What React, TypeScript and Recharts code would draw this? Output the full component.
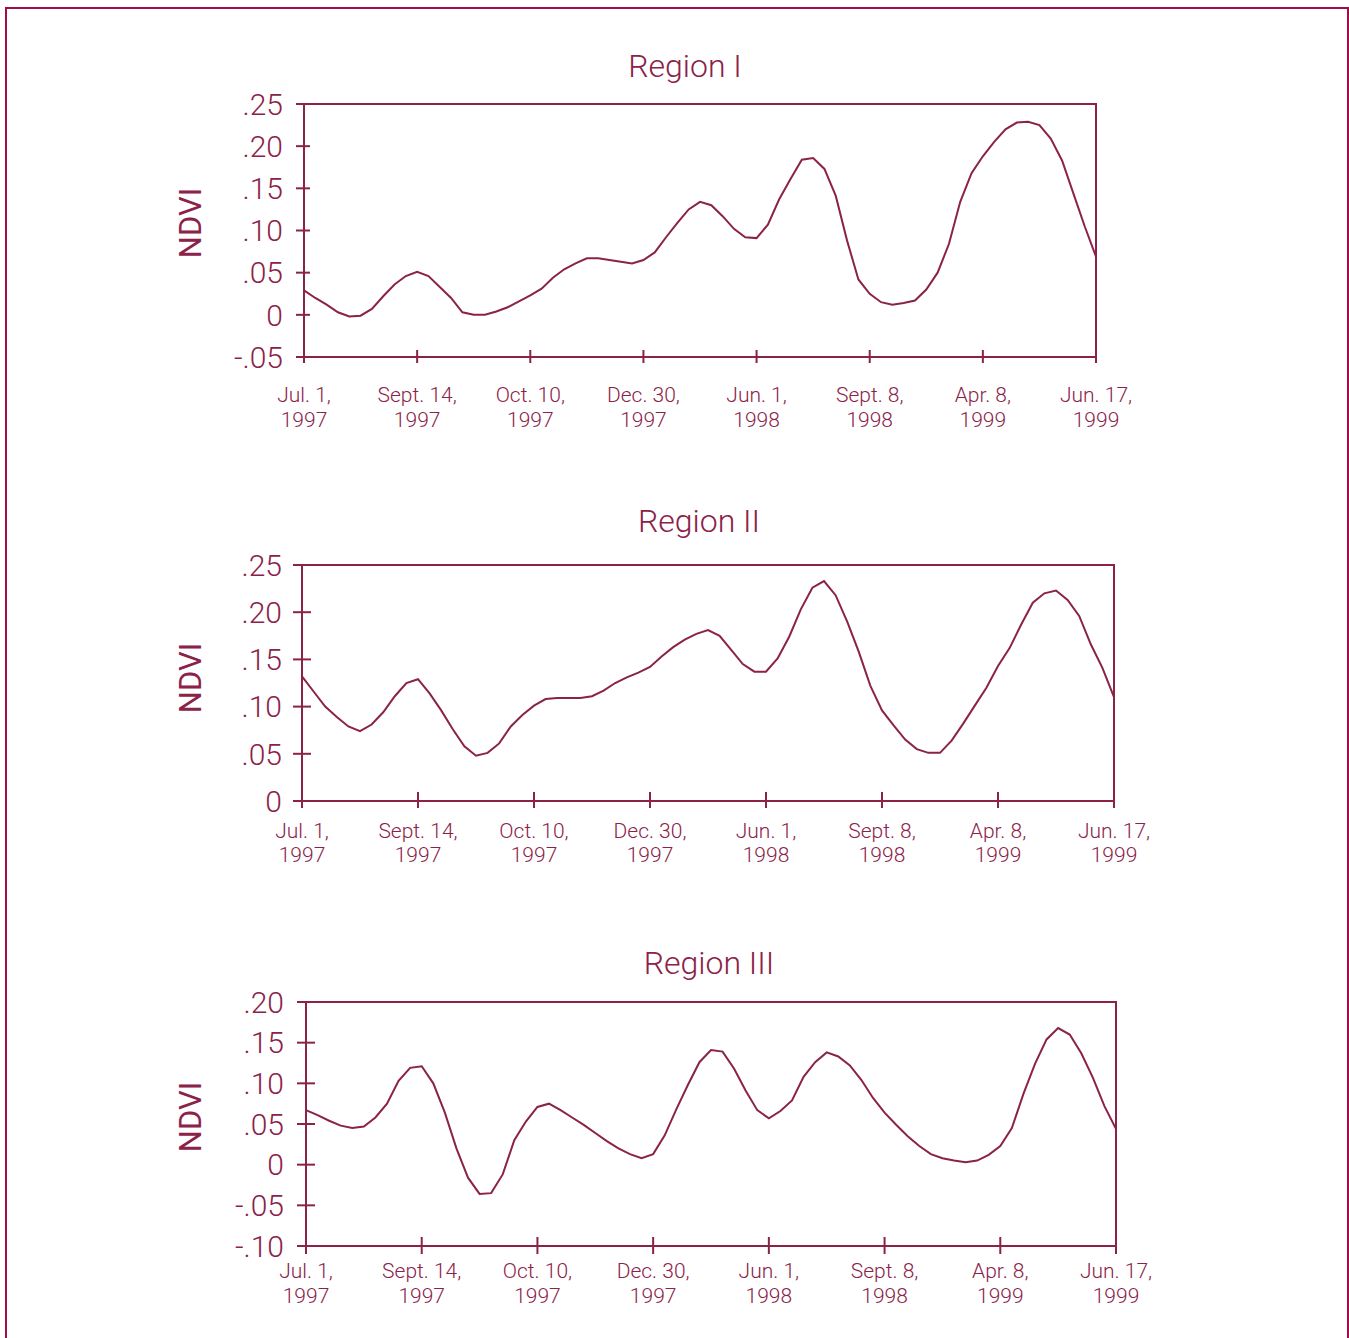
import React from "react";
import { LineChart, Line, XAxis, YAxis, ReferenceLine } from "recharts";

const INK = "#8b2249";
const FRAME = "#a30c4a";

// equally spaced date ticks (index scale, 10 samples between ticks)
const xTicks = [0, 10, 20, 30, 40, 50, 60, 70];
const tickMonths = ["Jul. 1,", "Sept. 14,", "Oct. 10,", "Dec. 30,", "Jun. 1,", "Sept. 8,", "Apr. 8,", "Jun. 17,"];
const tickYears = ["1997", "1997", "1997", "1997", "1998", "1998", "1999", "1999"];

const regionI = [
  0.029, 0.020, 0.012, 0.003, -0.002, -0.001, 0.007, 0.022, 0.036, 0.046,
  0.051, 0.046, 0.033, 0.020, 0.003, 0.000, 0.000, 0.004, 0.009, 0.016,
  0.023, 0.031, 0.044, 0.054, 0.061, 0.067, 0.067, 0.065, 0.063, 0.061,
  0.065, 0.074, 0.092, 0.109, 0.125, 0.134, 0.130, 0.117, 0.102, 0.092,
  0.091, 0.107, 0.137, 0.161, 0.184, 0.186, 0.173, 0.141, 0.088, 0.042,
  0.025, 0.015, 0.012, 0.014, 0.017, 0.030, 0.050, 0.084, 0.134, 0.168,
  0.188, 0.205, 0.220, 0.228, 0.229, 0.225, 0.209, 0.183, 0.144, 0.105,
  0.069,
];

const regionII = [
  0.132, 0.116, 0.100, 0.089, 0.079, 0.074, 0.081, 0.094, 0.111, 0.125,
  0.129, 0.114, 0.096, 0.076, 0.058, 0.048, 0.051, 0.061, 0.079, 0.091,
  0.101, 0.108, 0.109, 0.109, 0.109, 0.111, 0.117, 0.125, 0.131, 0.136,
  0.142, 0.153, 0.163, 0.171, 0.177, 0.181, 0.175, 0.160, 0.145, 0.137,
  0.137, 0.151, 0.174, 0.203, 0.226, 0.233, 0.218, 0.190, 0.158, 0.122,
  0.096, 0.080, 0.065, 0.055, 0.051, 0.051, 0.064, 0.082, 0.101, 0.120,
  0.143, 0.162, 0.187, 0.210, 0.220, 0.223, 0.213, 0.196, 0.166, 0.141,
  0.110,
];

const regionIII = [
  0.067, 0.061, 0.054, 0.048, 0.045, 0.047, 0.058, 0.075, 0.103, 0.119,
  0.121, 0.100, 0.064, 0.020, -0.016, -0.036, -0.035, -0.012, 0.030, 0.053,
  0.071, 0.075, 0.067, 0.058, 0.049, 0.039, 0.029, 0.020, 0.013, 0.008,
  0.013, 0.036, 0.068, 0.098, 0.126, 0.141, 0.139, 0.118, 0.091, 0.067,
  0.057, 0.066, 0.079, 0.108, 0.126, 0.138, 0.133, 0.122, 0.104, 0.082,
  0.064, 0.049, 0.035, 0.023, 0.013, 0.008, 0.005, 0.003, 0.005, 0.012,
  0.023, 0.045, 0.087, 0.124, 0.154, 0.168, 0.160, 0.137, 0.107, 0.072,
  0.044,
];

const yTicksI = [-0.05, 0, 0.05, 0.1, 0.15, 0.2, 0.25];
const yTicksII = [0, 0.05, 0.1, 0.15, 0.2, 0.25];
const yTicksIII = [-0.1, -0.05, 0, 0.05, 0.1, 0.15, 0.2];

const PAGE_W = 1349;
const PAGE_H = 1338;
const YW = 60;
const XH = 80;

const panels = [
  {
    title: "Region I", values: regionI, yTicks: yTicksI, domain: [-0.05, 0.25],
    plot: { l: 304, r: 1096, t: 104, b: 357 },
    yOut: 8, yIn: 6, xUp: 7, xDown: 6, yGap: 21, xBase: [45, 70],
    titleX: 685, titleBase: 77, ndviY: 223,
  },
  {
    title: "Region II", values: regionII, yTicks: yTicksII, domain: [0, 0.25],
    plot: { l: 302, r: 1114, t: 565, b: 801 },
    yOut: 9, yIn: 9, xUp: 9, xDown: 7, yGap: 20, xBase: [37, 61],
    titleX: 699, titleBase: 532, ndviY: 678,
  },
  {
    title: "Region III", values: regionIII, yTicks: yTicksIII, domain: [-0.1, 0.2],
    plot: { l: 306, r: 1116, t: 1002, b: 1246 },
    yOut: 9, yIn: 9, xUp: 9, xDown: 8, yGap: 22, xBase: [32, 57],
    titleX: 709, titleBase: 974, ndviY: 1117,
  },
];

function fmtY(v: number) {
  if (Math.abs(v) < 1e-9) return "0";
  return v.toFixed(2).replace("0.", ".");
}

function Panel({ p }: { p: (typeof panels)[number] }) {
  const H = p.plot.b + 100;
  const data = p.values.map((v, i) => ({ t: i, v }));
  const last = p.values.length - 1;
  const axisLine = { stroke: INK, strokeWidth: 2, strokeLinecap: "square" as const };

  return (
    <div style={{ position: "absolute", left: 0, top: 0 }}>
      <LineChart
        width={PAGE_W}
        height={H}
        data={data}
        margin={{ top: p.plot.t, left: p.plot.l - YW, right: PAGE_W - p.plot.r, bottom: H - p.plot.b - XH }}
      >
        <XAxis
          dataKey="t"
          type="number"
          domain={[0, last]}
          ticks={xTicks}
          interval={0}
          height={XH}
          tickSize={0}
          tickMargin={0}
          tickLine={false}
          axisLine={axisLine}
          tick={(tp: any) => {
            const i = xTicks.indexOf(tp.payload.value);
            return (
              <g>
                <line x1={tp.x} x2={tp.x} y1={tp.y - p.xUp} y2={tp.y + p.xDown} stroke={INK} strokeWidth={2} />
                <text x={tp.x} y={tp.y + p.xBase[0]} textAnchor="middle" fontSize={21} fontWeight={300} fill={INK}>{tickMonths[i]}</text>
                <text x={tp.x} y={tp.y + p.xBase[1]} textAnchor="middle" fontSize={21} fontWeight={300} fill={INK}>{tickYears[i]}</text>
              </g>
            );
          }}
        />
        <YAxis
          type="number"
          domain={p.domain}
          ticks={p.yTicks}
          interval={0}
          width={YW}
          tickSize={0}
          tickMargin={0}
          tickLine={false}
          axisLine={axisLine}
          tick={(tp: any) => (
            <g>
              <line x1={tp.x - p.yOut} x2={tp.x + p.yIn} y1={tp.y} y2={tp.y} stroke={INK} strokeWidth={2} />
              <text x={tp.x - p.yGap} y={tp.y} dy="0.36em" textAnchor="end" fontSize={30} fontWeight={300} fill={INK}>
                {fmtY(tp.payload.value)}
              </text>
            </g>
          )}
        />
        {/* closing frame of the plot box: top and right edges */}
        <ReferenceLine y={p.domain[1]} stroke={INK} strokeWidth={2} strokeLinecap="square" />
        <ReferenceLine x={last} stroke={INK} strokeWidth={2} strokeLinecap="square" />
        <Line
          type="linear"
          dataKey="v"
          stroke={INK}
          strokeWidth={2}
          dot={false}
          isAnimationActive={false}
        />
      </LineChart>
    </div>
  );
}

export default function App() {
  return (
    <div
      style={{
        position: "absolute",
        left: 0,
        top: 0,
        width: PAGE_W,
        height: PAGE_H,
        overflow: "hidden",
        background: "#fff",
        fontFamily: "Roboto, 'Liberation Sans', sans-serif",
      }}
    >
      <div
        style={{
          position: "absolute",
          left: 5,
          top: 7,
          width: 1344,
          height: 1400,
          boxSizing: "border-box",
          border: `2px solid ${FRAME}`,
          borderBottom: "none",
        }}
      />
      {panels.map((p) => (
        <Panel key={p.title} p={p} />
      ))}
      <svg width={PAGE_W} height={PAGE_H} style={{ position: "absolute", left: 0, top: 0, pointerEvents: "none" }}>
        {panels.map((p) => (
          <g key={p.title}>
            <text x={p.titleX} y={p.titleBase} textAnchor="middle" fontSize={32} fontWeight={300} fill={INK}>{p.title}</text>
            <text
              x={190}
              y={p.ndviY}
              dy="0.355em"
              textAnchor="middle"
              fontSize={31}
              fill={INK}
              transform={`rotate(-90, 190, ${p.ndviY})`}
            >
              NDVI
            </text>
          </g>
        ))}
      </svg>
    </div>
  );
}
